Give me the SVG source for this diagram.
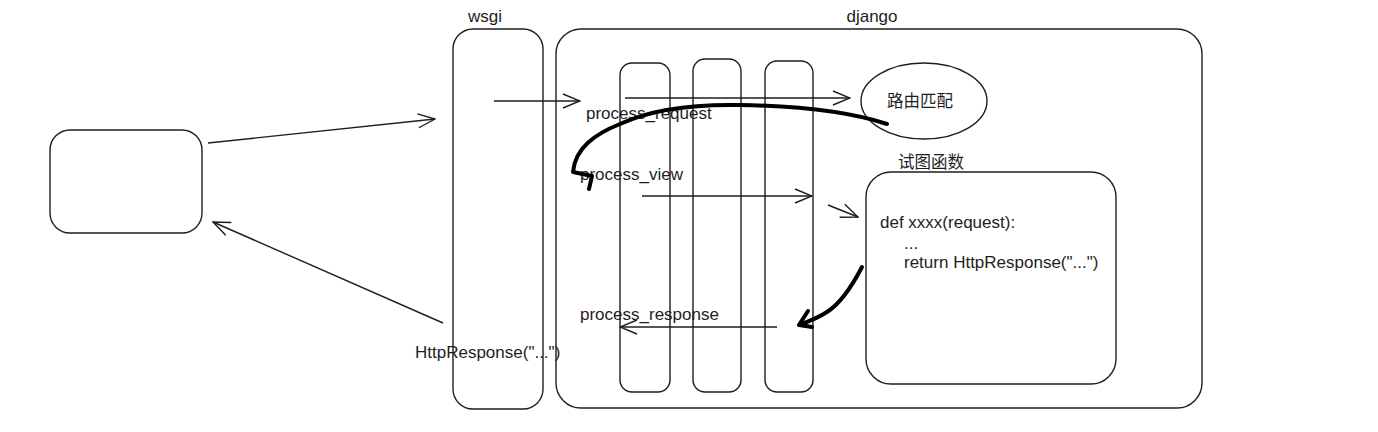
<svg xmlns="http://www.w3.org/2000/svg" width="1378" height="432" viewBox="0 0 1378 432">
<defs>
<style>
.box{fill:none;stroke:#1e1e1e;stroke-width:1.4}
.ln{fill:none;stroke:#1e1e1e;stroke-width:1.4}
.thick{fill:none;stroke:#000;stroke-width:4;stroke-linecap:round;stroke-linejoin:round}
.t{font-family:"Liberation Sans","Noto Sans CJK SC",sans-serif;font-size:17px;fill:#1e1e1e}
.c{font-size:16.5px}
</style>
<marker id="ah" viewBox="0 0 20 20" refX="19" refY="10" markerWidth="20" markerHeight="20" markerUnits="userSpaceOnUse" orient="auto">
<path d="M2,3 L19,10 L2,17" fill="none" stroke="#1e1e1e" stroke-width="1.4"/>
</marker>
</defs>
<rect width="1378" height="432" fill="#fff"/>
<g id="client"><rect class="box" x="50" y="130" width="152" height="103" rx="20"/></g>
<g id="wsgi"><rect class="box" x="453" y="29" width="90" height="380" rx="20"/><text class="t" x="485" y="22" text-anchor="middle">wsgi</text></g>
<g id="django"><rect class="box" x="556" y="29" width="646" height="379" rx="25"/><text class="t" x="872" y="22" text-anchor="middle">django</text></g>
<g id="mw1"><rect class="box" x="620" y="63" width="50" height="329" rx="12"/></g>
<g id="mw2"><rect class="box" x="693" y="59" width="48" height="333" rx="12"/></g>
<g id="mw3"><rect class="box" x="765" y="61" width="48" height="331" rx="12"/></g>
<g id="route"><ellipse class="box" cx="924" cy="101" rx="63" ry="38"/><text class="t c" x="920" y="107" text-anchor="middle">路由匹配</text></g>
<g id="view"><rect class="box" x="866" y="172" width="250" height="212" rx="25"/><text class="t c" x="898" y="168">试图函数</text>
<text class="t" x="880" y="228">def xxxx(request):</text>
<text class="t" x="904" y="249">...</text>
<text class="t" x="904" y="268">return HttpResponse("...")</text></g>
<g id="labels">
<text class="t" x="586" y="119">process_request</text>
<text class="t" x="580" y="180">process_view</text>
<text class="t" x="580" y="320">process_response</text>
<text class="t" x="415" y="358">HttpResponse("...")</text>
</g>
<g id="connectors">
<path class="ln" d="M208,143 L435,119" marker-end="url(#ah)"/>
<path class="ln" d="M443,323 L213,222" marker-end="url(#ah)"/>
<path class="ln" d="M494,101 L580,101" marker-end="url(#ah)"/>
<path class="ln" d="M625,98 L850,98" marker-end="url(#ah)"/>
<path class="ln" d="M642,196 L812,196" marker-end="url(#ah)"/>
<path class="ln" d="M828,205 L858,217" marker-end="url(#ah)"/>
<path class="ln" d="M777,327 L620,327" marker-end="url(#ah)"/>
<path class="thick" d="M887,124 C850,112 800,106 740,105 C690,104 650,110 620,124 C595,134 575,148 573,172 L592,176 L589,189"/>
<path class="thick" d="M862,267 C850,290 838,305 827,312 C818,318 810,321 799,325 M808,311 L799,325 L812,327"/>
</g>
</svg>
